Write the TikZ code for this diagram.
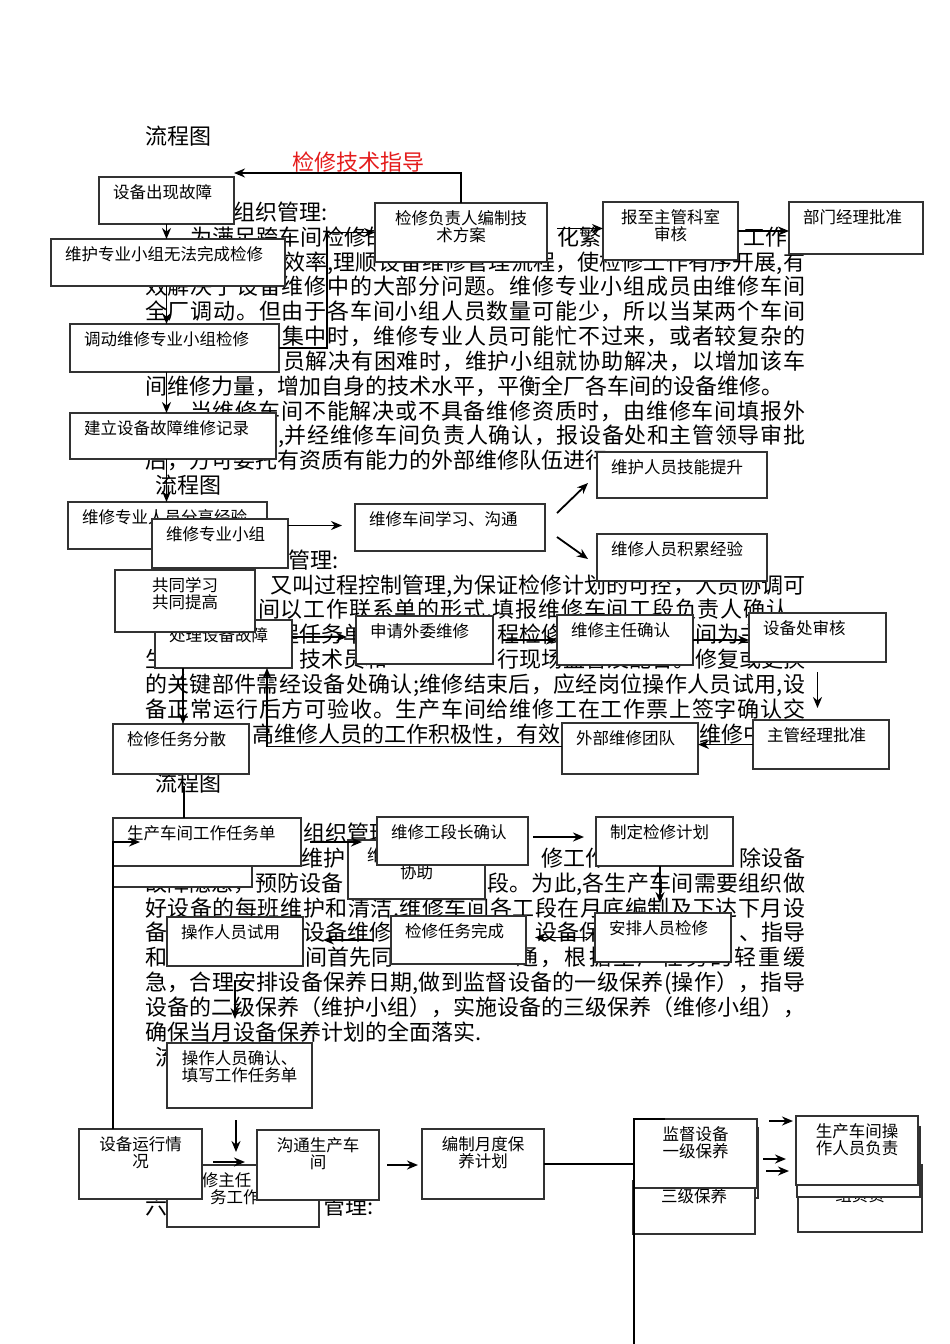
\documentclass[tikz,border=0pt]{standalone}
\usepackage{fontspec}
\setmainfont{Noto Sans CJK SC}
\usetikzlibrary{arrows.meta}
\newcommand{\zhengwen}{\fontsize{22pt}{24.85pt}\selectfont}
\newcommand{\kuangwen}{\fontsize{16.5pt}{17pt}\selectfont}
\definecolor{biankuang}{RGB}{50,50,50}
\definecolor{hongzi}{RGB}{228,28,28}
\tikzstyle{kuang} = [rectangle, draw=biankuang, fill=white, line width=1.3pt, inner sep=0pt, outer sep=0pt, anchor=north west]
\tikzstyle{kuangzi} = [inner sep=0pt, font=\kuangwen]
\tikzstyle{zw} = [anchor=base west, inner sep=0pt, font=\zhengwen]
\tikzstyle{xian} = [line width=1.8pt]
\tikzstyle{arrow} = [line width=1.8pt, -{Stealth[length=11pt,width=9pt]}]
% spread a line of text over a given width
\def\jzloop#1{\ifx#1\relax\else\hfil#1\expandafter\jzloop\fi}
\def\jzfirst#1{#1\jzloop}
\newcommand{\jz}[2]{\makebox[#1pt][s]{\jzfirst#2\relax}}
% box: name, x, y, width, height, text
\newcommand{\kuang}[6]{%
  \node[kuang, minimum width=#4, minimum height=#5] (#1) at (#2,#3) {};
  \node[kuangzi, anchor=base west] (#1-t) at ([shift={(14,21)}]#1.north west) {#6};}
\newcommand{\kuangc}[6]{%
  \node[kuang, minimum width=#4, minimum height=#5] (#1) at (#2,#3) {};
  \node[kuangzi, align=center, anchor=north] (#1-t) at ([shift={(0,7)}]#1.north) {#6};}

\begin{document}
\begin{tikzpicture}[x=1pt, y=-1pt]
			\useasboundingbox (0,0) rectangle (950,1344);
			% Text
			\node[zw] (h1) at (145,144) {流程图};
			\node[zw, text=hongzi] (zd-t) at (292,170) {检修技术指导};
			\node[zw] (a0) at (233,220) {组织管理:};
			\node[zw] (a1) at (190,245) {为满足跨车间检修的};
			\node[zw] (a1b) at (557,245) {化繁};
			\node[zw] (a1c) at (743,245) {工作};
			\node[zw] (a2) at (283,270) {\jz{522}{效率,理顺设备维修管理流程，使检修工作有序开展,有}};
			\node[zw] (a3) at (145,294.5) {\jz{660}{效解决了设备维修中的大部分问题。维修专业小组成员由维修车间}};
			\node[zw] (a4) at (145,319.5) {\jz{660}{全厂调动。但由于各车间小组人员数量可能少，所以当某两个车间}};
			\node[zw] (a5) at (282,344) {\jz{523}{集中时，维修专业人员可能忙不过来，或者较复杂的}};
			\node[zw] (a6) at (283,369) {\jz{522}{员解决有困难时，维护小组就协助解决，以增加该车}};
			\node[zw] (a7) at (145,394) {间维修力量，增加自身的技术水平，平衡全厂各车间的设备维修。};
			\node[zw] (a8) at (190,419) {\jz{615}{当维修车间不能解决或不具备维修资质时，由维修车间填报外}};
			\node[zw] (a9) at (278,443.5) {\jz{527}{,并经维修车间负责人确认，报设备处和主管领导审批}};
			\node[zw] (a10) at (145,468.5) {后，方可委托有资质有能力的外部维修队伍进行};
			\node[zw] (h2) at (155,493.5) {流程图};
			\node[zw] (b0) at (288,568) {管理:};
			\node[zw] (b1) at (270,593) {\jz{535}{又叫过程控制管理,为保证检修计划的可控，人员协调可}};
			\node[zw] (b2) at (258,617.5) {\jz{537}{间以工作联系单的形式.填报维修车间工段负责人确认.}};
			\node[zw] (b3) at (277,642.5) {程任务单};
			\node[zw] (b3b) at (497,642.5) {程检修};
			\node[zw] (b3c) at (695,642.5) {间为主};
			\node[zw] (b4) at (145,667.5) {生};
			\node[zw] (b4b) at (299,667.5) {技术员和};
			\node[zw] (b4c) at (497,667.5) {\jz{308}{行现场监督及配合。修复或更换}};
			\node[zw] (b5) at (145,692) {\jz{660}{的关键部件需经设备处确认;维修结束后，应经岗位操作人员试用,设}};
			\node[zw] (b6) at (145,717) {\jz{660}{备正常运行后方可验收。生产车间给维修工在工作票上签字确认交}};
			\node[zw] (b7) at (252,742) {高维修人员的工作积极性，有效};
			\node[zw] (b7b) at (699,742) {维修中};
			\node[zw] (h3) at (155,791.5) {流程图};
			\node[zw] (c0) at (303,841) {组织管理};
			\node[zw] (c1) at (301,866) {维护};
			\node[zw] (c1b) at (541,866) {修工作};
			\node[zw] (c1c) at (739,866) {除设备};
			\node[zw] (c2) at (145,891) {故障隐患，预防设备};
			\node[zw] (c2b) at (487,891) {\jz{318}{段。为此,各生产车间需要组织做}};
			\node[zw] (c3) at (145,916) {\jz{660}{好设备的每班维护和清洁.维修车间各工段在月底编制及下达下月设}};
			\node[zw] (c4) at (145,940.5) {备};
			\node[zw] (c4b) at (303,940.5) {设备维修};
			\node[zw] (c4c) at (535,940.5) {设备保};
			\node[zw] (c4d) at (739,940.5) {\jz{66}{、指导}};
			\node[zw] (c5) at (145,965.5) {和};
			\node[zw] (c5b) at (305,965.5) {间首先同};
			\node[zw] (c5c) at (516,965.5) {\jz{289}{通，根据生产任务的轻重缓}};
			\node[zw] (c6) at (145,990) {\jz{660}{急，合理安排设备保养日期,做到监督设备的一级保养(操作），指导}};
			\node[zw] (c7) at (145,1015) {设备的二级保养（维护小组），实施设备的三级保养（维修小组），};
			\node[zw] (c8) at (145,1040) {确保当月设备保养计划的全面落实.};
			\node[zw] (h4) at (155,1065) {流程图};
			\node[zw] (d0) at (145,1214) {六};
			\node[zw] (d0b) at (323,1214) {管理:};

			% Boxes
			\kuang{gz}{99}{177}{135}{47}{设备出现故障}
			\kuang{wx}{51}{239}{234}{47}{维护专业小组无法完成检修}
			\kuangc{jf}{375}{203}{172}{59}{检修负责人编制技\\术方案}
			\kuangc{bz}{603}{202}{135}{58}{报至主管科室\\审核}
			\kuang{bm}{789}{202}{134}{52}{部门经理批准}
			\kuang{dd}{70}{324}{209}{48}{调动维修专业小组检修}
			\kuang{jl}{70}{413}{206}{46}{建立设备故障维修记录}
			\kuang{jn}{597}{452}{170}{46}{维护人员技能提升}
			\kuang{fx}{68}{502}{199}{47}{维修专业人员分享经验}
			\kuang{xz}{152}{519}{136}{49}{维修专业小组}
			\kuang{xx}{355}{504}{190}{47}{维修车间学习、沟通}
			\kuang{jy}{597}{534}{170}{47}{维修人员积累经验}
			\kuang{cl}{155}{620}{137}{48}{处理设备故障}
			\kuangc{gx}{115}{570}{140}{62}{共同学习\\共同提高}
			\kuang{sq}{356}{616}{137}{48}{申请外委维修}
			\kuang{wz}{557}{615}{136}{50}{维修主任确认}
			\kuang{sh}{749}{613}{137}{49}{设备处审核}
			\kuang{rw}{113}{724}{136}{50}{检修任务分散}
			\kuang{wb}{562}{723}{136}{51}{外部维修团队}
			\kuang{zg}{753}{720}{136}{49}{主管经理批准}
			\node[kuang, minimum width=139, minimum height=49] (yc) at (113,838) {};
			\kuang{sc}{113}{818}{188}{48}{生产车间工作任务单}
			\kuangc{xs}{348}{840}{137}{59}{维\phantom{修专业人员}\\协助}
			\kuang{gd}{377}{817}{151}{48}{维修工段长确认}
			\kuang{zd}{596}{817}{137}{49}{制定检修计划}
			\kuang{sy}{167}{917}{136}{49}{操作人员试用}
			\kuang{wc}{391}{916}{135}{48}{检修任务完成}
			\kuang{ap}{595}{913}{136}{49}{安排人员检修}
			\kuangc{qr}{167}{1043}{145}{65}{操作人员确认、\\填写工作任务单}
			\kuangc{wr}{167}{1165}{152}{62}{\phantom{维}修主任\phantom{安排任}\\务工作\phantom{单}}
			\kuangc{yx}{79}{1129}{123}{70}{设备运行情\\况}
			\kuangc{gt}{257}{1130}{122}{70}{沟通生产车\\间}
			\kuangc{bj}{422}{1129}{122}{70}{编制月度保\\养计划}
			\node[kuang, minimum width=123, minimum height=70] (ej) at (635,1128) {};
			\kuangc{sj}{633}{1181}{122}{53}{三级保养}
			\kuangc{yj}{634}{1119}{123}{69}{监督设备\\一级保养}
			\node[kuang, minimum width=124, minimum height=67] (wz3) at (798,1165) {};
			\node[kuangzi, anchor=base] (wz3-t) at ([shift={(0,36)}]wz3.north) {组负责};
			\node[kuang, minimum width=123, minimum height=70] (wz2) at (797,1127) {};
			\kuangc{wz1}{796}{1116}{122}{69}{生产车间操\\作人员负责}

			% Arrows
			\draw[arrow] (jf.north) |- ([yshift=4pt]gz.north east);
			\draw[arrow] (gz.south) -- (gz.south |- wx.north);
			\draw[arrow] (gz.south |- wx.south) -- (gz.south |- dd.north);
			\draw[arrow] (gz.south |- dd.south) -- (gz.south |- jl.north);
			\draw[arrow] (gz.south |- jl.south) -- (gz.south |- fx.north);
			\draw[arrow] (dd.east) -- ++(48,0) |- (jf.west);
			\coordinate (jf-e) at ([yshift=4pt]jf.east);
			\draw[arrow, shorten <=10pt] (jf-e) -- (jf-e -| bz.west);
			\draw[arrow] (bz.east) -- (bz.east -| bm.west);
			\draw[arrow, shorten >=13pt] (xz.east |- fx.east) -- (fx.east -| xx.west);
			\draw[arrow] ([shift={(12,-14.5)}]xx.east) -- ([shift={(-9,-15)}]jn.south west);
			\draw[arrow] ([shift={(12,9.5)}]xx.east) -- ([shift={(-9,1.5)}]jy.west);
			\coordinate (cl-e) at ([yshift=7pt]cl.east);
			\draw[arrow, shorten >=9pt] (cl-e) -- (cl-e -| sq.west);
			\draw[arrow, shorten <=9pt] (sq.east) -- (sq.east -| wz.west);
			\draw[arrow] (wz.east) -- (wz.east -| sh.west);
			\draw[arrow, shorten <=10pt, shorten >=12pt] (sh.south) -- (sh.south |- zg.north);
			\draw[arrow] (zg.west) -- (zg.west -| wb.east);
			\draw[arrow] ([yshift=2pt]wb.west) -| ([xshift=-25pt]cl.south east);
			\coordinate (cl-s) at ([xshift=28pt]cl.south west);
			\draw[arrow] (cl-s) -- (cl-s |- rw.north);
			\coordinate (lt) at (184,786);
			\draw[xian] (lt) -- (lt |- sc.north);
			\coordinate (yx-n) at ([xshift=34pt]yx.north west);
			\draw[arrow] (yx-n) |- ([shift={(27,24)}]sc.north west);
			\draw[arrow, shorten <=9pt, shorten >=15pt] (sc.east) -- (sc.east -| gd.west);
			\coordinate (gd-e) at ([yshift=4pt]gd.east);
			\draw[arrow, shorten <=5pt, shorten >=12pt] (gd-e) -- (gd-e -| zd.west);
			\coordinate (zd-s) at ([xshift=-4.5pt]zd.south);
			\draw[arrow, shorten >=10pt] (zd-s) -- (zd-s |- ap.north);
			\draw[arrow, shorten <=8pt, shorten >=9pt] (ap.west) -- (ap.west -| wc.east);
			\draw[arrow, shorten <=18pt, shorten >=20pt] (wc.west) -- (wc.west -| sy.east);
			\draw[arrow, shorten <=14pt, shorten >=24pt] (sy.south) -- (sy.south |- qr.north);
			\coordinate (qr-s) at ([xshift=-3.5pt]qr.south);
			\draw[arrow, shorten <=12pt, shorten >=13pt] (qr-s) -- (qr-s |- wr.north);
			\coordinate (yx-e) at ([yshift=2pt]yx.east);
			\draw[arrow, shorten <=11pt, shorten >=12pt] (yx-e) -- (yx-e -| gt.west);
			\draw[arrow, shorten <=8pt, shorten >=4pt] (gt.east) -- (gt.east -| bj.west);
			\draw[xian] (bj.east) -- (bj.east -| yj.west);
			\coordinate (di) at (634,1344);
			\draw[xian] ([xshift=31pt]yj.north west) -- (yj.north west) -- (di);
			\draw[arrow] ([shift={(12,2)}]yj.north east) -- ([shift={(-3,5)}]wz1.north west);
			\draw[arrow] ([shift={(5,31)}]ej.north east) -- ([shift={(-11,32)}]wz2.north west);
			\draw[arrow] ([shift={(11,-10)}]sj.north east) -- ([shift={(-9,6)}]wz3.north west);
		\end{tikzpicture}
\end{document}
